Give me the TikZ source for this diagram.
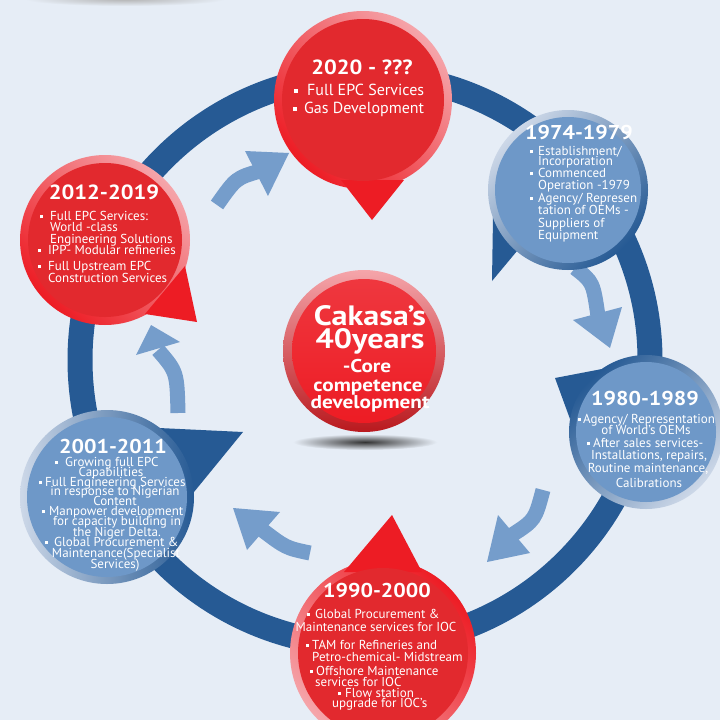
\documentclass[tikz,border=0pt]{standalone}
\usepackage{fontspec}
\setmainfont{PT Sans}
\newfontfamily\yrfont[FakeStretch=1.1]{PT Sans}
\newfontfamily\corefont[FakeStretch=1.15]{PT Sans}
\definecolor{bg}{RGB}{230,237,246}
\definecolor{ringc}{RGB}{38,90,148}
\definecolor{arrowblue}{RGB}{117,157,203}
\definecolor{bubbleblue}{RGB}{110,152,200}
\definecolor{redin}{RGB}{226,41,46}
\definecolor{redrim}{RGB}{237,28,36}
\definecolor{pinkrim}{RGB}{245,165,170}
\definecolor{darkred}{RGB}{185,25,30}
\definecolor{rimlight}{RGB}{205,216,232}
\newcommand\bsq[1]{\llap{\rule[0.25ex]{0.26em}{0.26em}\hspace{#1pt}}}
\tikzset{
  txt/.style={text=white, inner sep=0pt},
  yr/.style={txt, font=\yrfont\fontsize{20}{20}\selectfont\bfseries, anchor=base},
  bl/.style={txt, font=\fontsize{13}{13}\selectfont, anchor=base west},
  bc/.style={txt, font=\fontsize{13}{13}\selectfont, anchor=base},
  corebig/.style={txt, font=\corefont\fontsize{28}{28}\selectfont\bfseries, anchor=base},
  coresmall/.style={txt, font=\corefont\fontsize{18.5}{19}\selectfont\bfseries, anchor=base},
  shaft/.style={draw=arrowblue, line width=15pt},
  head/.style={fill=arrowblue},
  disc/.style={circle, inner sep=0pt},
}
\begin{document}
\begin{tikzpicture}[x=1pt,y=-1pt]
\useasboundingbox (0,0) rectangle (720,720);
\clip (0,0) rectangle (720,720);
\fill[bg] (0,0) rectangle (720,720);
% faint shadow at top
\shade[inner color=black!30, outer color=bg] (125,-1) ellipse (100 and 7);
% ring
\draw[ringc, line width=25pt] (365,360) circle (285);

% ---------- arrows ----------
\coordinate (aT) at (217,205); \coordinate (aC) at (236,178); \coordinate (aN) at (260,171);
\coordinate (aB1) at (245,151); \coordinate (aP) at (289,153); \coordinate (aB2) at (268,196);
\draw[shaft] (aT) .. controls (aC) .. (aN);
\fill[head] (aB1) -- (aP) -- (aB2) -- cycle;

\coordinate (bT) at (575,268); \coordinate (bC) at (593,282); \coordinate (bN) at (598,316);
\coordinate (bB1) at (573,320); \coordinate (bP) at (610,348); \coordinate (bB2) at (622,307);
\draw[shaft] (bT) .. controls (bC) .. (bN);
\fill[head] (bB1) -- (bP) -- (bB2) -- cycle;

\coordinate (cT) at (543,490); \coordinate (cC) at (535,520); \coordinate (cN) at (512,535);
\coordinate (cB1) at (498,515); \coordinate (cP) at (487,562); \coordinate (cB2) at (530,553);
\draw[shaft] (cT) .. controls (cC) .. (cN);
\fill[head] (cB1) -- (cP) -- (cB2) -- cycle;

\coordinate (dT) at (310,553); \coordinate (dC) at (286,548); \coordinate (dN) at (261,529);
\coordinate (dB1) at (280,512); \coordinate (dP) at (233,508); \coordinate (dB2) at (247,550);
\draw[shaft] (dT) .. controls (dC) .. (dN);
\fill[head] (dB1) -- (dP) -- (dB2) -- cycle;

\coordinate (eT) at (178,413); \coordinate (eC) at (177,372); \coordinate (eN) at (158,350);
\coordinate (eB1) at (136,355); \coordinate (eP) at (151,325); \coordinate (eB2) at (180,342);
\draw[shaft] (eT) .. controls (eC) .. (eN);
\fill[head] (eB1) -- (eP) -- (eB2) -- cycle;

% ---------- center ----------
\shade[inner color=black!80, outer color=bg] (365,442) ellipse (72 and 8);
\node[disc, minimum size=162pt, top color=pinkrim, bottom color=darkred] (core) at (364,351) {};
\node[disc, minimum size=144pt, top color=redrim!80!pinkrim, bottom color=redrim] (corein) at (core) {};
\node[corebig] (c1) at (370,325) {Cakasa’s};
\node[corebig] (c2) at (370,348) {40years};
\node[coresmall] (c3) at (367,372) {-Core};
\node[coresmall] (c4) at (368,391) {competence};
\node[coresmall] (c5) at (370,408) {development};

% ---------- 2020 ----------
\node[disc, minimum size=178pt, top color=pinkrim, bottom color=redrim, shading angle=-45] (b20) at (363,100) {};
\fill[redrim] (341,180) -- (404,180) -- (372,220) -- cycle;
\node[disc, minimum size=162pt, fill=redin] (b20i) at (b20) {};
\node[yr, font=\yrfont\fontsize{20.5}{21}\selectfont\bfseries] (t20) at (362,74) {2020 - ???};
\node[bl, font=\fontsize{16}{16}\selectfont] (t20a) at (307,95) {\bsq{9}Full EPC Services};
\node[bl, font=\fontsize{16}{16}\selectfont] (t20b) at (304,113) {\bsq{7}Gas Development};

% ---------- 1974 ----------
\fill[ringc] (493,217) -- (517,251) -- (492,281) -- cycle;
\node[disc, minimum size=160pt, top color=rimlight, bottom color=ringc, shading angle=45] (b74) at (568,190) {};
\node[disc, minimum size=146pt, fill=bubbleblue] (b74i) at (b74) {};
\node[yr] (t74) at (579,139) {1974-1979};
\node[bl] (t74a) at (538,155) {\bsq{5}Establishment/};
\node[bl] (t74b) at (538,165) {Incorporation};
\node[bl] (t74c) at (538,177) {\bsq{5}Commenced};
\node[bl] (t74d) at (538,189) {Operation -1979};
\node[bl] (t74e) at (538,202) {\bsq{5}Agency/ Represen};
\node[bl] (t74f) at (538,214) {tation of OEMs -};
\node[bl] (t74g) at (538,227) {Suppliers of};
\node[bl] (t74h) at (538,239) {Equipment};

% ---------- 1980 ----------
\fill[ringc] (570,419) -- (555,378) -- (602,369) -- cycle;
\node[disc, minimum size=154pt, top color=ringc, bottom color=rimlight, shading angle=45] (b80) at (646,432) {};
\node[disc, minimum size=140pt, fill=bubbleblue] (b80i) at (b80) {};
\node[yr] (t80) at (645,405) {1980-1989};
\node[bl] (t80a) at (583,423) {\bsq{2}Agency/ Representation};
\node[bc] (t80b) at (646,434) {of World’s OEMs};
\node[bl] (t80c) at (593,447) {\bsq{3}After sales services-};
\node[bc] (t80d) at (649,459) {Installations, repairs,};
\node[bc] (t80e) at (648,472) {Routine maintenance,};
\node[bc] (t80f) at (649,487) {Calibrations};

% ---------- 1990 ----------
\node[disc, minimum size=186pt, top color=redrim, bottom color=pinkrim, shading angle=-45] (b90) at (383,653) {};
\fill[redrim] (344,572) -- (392,515) -- (422,572) -- cycle;
\node[disc, minimum size=170pt, fill=redin] (b90i) at (b90) {};
\node[yr] (t90) at (377,597) {1990-2000};
\node[bl] (t90a) at (315,618) {\bsq{5}Global Procurement \&};
\node[bc] (t90b) at (376,631) {Maintenance services for IOC};
\node[bl] (t90c) at (312,649) {\bsq{3}TAM for Refineries and};
\node[bl] (t90d) at (312,661) {Petro-chemical- Midstream};
\node[bl] (t90e) at (316,675) {\bsq{3}Offshore Maintenance};
\node[bl] (t90f) at (315,686) {services for IOC};
\node[bl] (t90g) at (345,697) {\bsq{4}Flow station};
\node[bl] (t90h) at (332,707) {upgrade for IOC’s};

% ---------- 2001 ----------
\fill[ringc] (159,428) -- (243,432) -- (194,492) -- cycle;
\node[disc, minimum size=174pt, left color=rimlight, right color=ringc] (b01) at (107,497) {};
\node[disc, minimum size=160pt, fill=bubbleblue] (b01i) at (b01) {};
\node[yr] (t01) at (113,453) {2001-2011};
\node[bl] (t01a) at (65,466) {\bsq{7}Growing full EPC};
\node[bc] (t01b) at (111,476) {Capabilities};
\node[bl] (t01c) at (45,486) {\bsq{3}Full Engineering Services};
\node[bc] (t01d) at (115,495) {in response to Nigerian};
\node[bc] (t01e) at (115,505) {Content};
\node[bl] (t01f) at (49,515) {\bsq{4}Manpower development};
\node[bc] (t01g) at (117,525) {for capacity building in};
\node[bc] (t01h) at (117,536) {the Niger Delta.};
\node[bl] (t01i) at (54,546) {\bsq{6}Global Procurement \&};
\node[bc] (t01j) at (116,557) {Maintenance(Specialist};
\node[bc] (t01k) at (115,568) {Services)};

% ---------- 2012 ----------
\node[disc, minimum size=170pt, top color=pinkrim, bottom color=redrim, shading angle=-45] (b12) at (105,240) {};
\fill[redrim] (185,266) -- (197,322) -- (145,314) -- cycle;
\node[disc, minimum size=154pt, fill=redin] (b12i) at (b12) {};
\node[yr, font=\yrfont\fontsize{20.5}{21}\selectfont\bfseries] (t12) at (104,199) {2012-2019};
\node[bl] (t12a) at (50,220) {\bsq{7}Full EPC Services:};
\node[bl] (t12b) at (50,231) {World -class};
\node[bl] (t12c) at (50,243) {Engineering Solutions};
\node[bl] (t12d) at (48,254) {\bsq{7}IPP- Modular refineries};
\node[bl] (t12e) at (48,270) {\bsq{7}Full Upstream EPC};
\node[bl] (t12f) at (48,282) {Construction Services};
\end{tikzpicture}
\end{document}
